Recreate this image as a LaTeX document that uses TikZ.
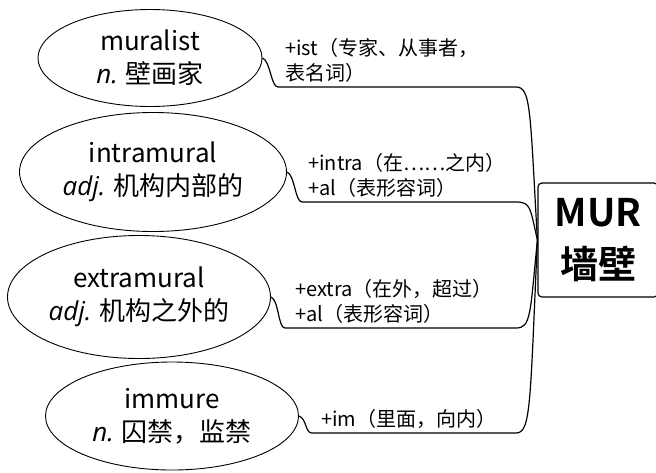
\documentclass[tikz,border=0pt]{standalone}
\usepackage{fontspec}
\setmainfont{Noto Sans CJK SC}[BoldFont=* Bold]
\newfontfamily\latinit{Open Sans}[ItalicFont=* Italic]
\newcommand\pos[1]{{\latinit\itshape #1}}
\usetikzlibrary{calc,positioning,shapes.geometric}
\tikzset{
  word/.style={draw,ellipse,inner sep=0pt,align=center,line width=0.9pt,font=\fontsize{26}{33}\selectfont},
  affix/.style={anchor=south west,inner sep=2pt,align=left,font=\fontsize{20}{25}\selectfont},
  link/.style={line width=1.2pt},
  rootbox/.style={draw,rounded corners=4pt,line width=1.2pt,minimum width=120pt,minimum height=114pt,align=center,font=\fontsize{38}{52}\selectfont\bfseries}
}

\begin{document}
\begin{tikzpicture}[x=1pt,y=-1pt]
\useasboundingbox (0,0) rectangle (656,472);
\node[rootbox] (mur) at (598,240) {MUR\\墙壁};
\node[word,minimum width=224pt,minimum height=97pt] (muralist) at (150,58) {muralist\\\pos{n.} 壁画家};
\node[word,minimum width=267pt,minimum height=119pt] (intramural) at (153,172) {intramural\\\pos{adj.} 机构内部的};
\node[word,minimum width=263pt,minimum height=123pt] (extramural) at (139,297) {extramural\\\pos{adj.} 机构之外的};
\node[word,minimum width=253pt,minimum height=108pt] (immure) at (172,416) {immure\\\pos{n.} 囚禁，监禁};
\node[affix] (ist) at (283,85) {+ist（专家、从事者，\\表名词）};
\node[affix] (intra) at (306,200) {+intra（在⋯⋯之内）\\+al（表形容词）};
\node[affix] (extra) at (293,326) {+extra（在外，超过）\\+al（表形容词）};
\node[affix] (im) at (319,431) {+im（里面，向内）};
\foreach \n/\x/\y in {muralist/278/87,intramural/302/202,extramural/285/328,immure/312/433}
  \draw[link] (\n.east) .. controls +(8,3) and +(-7,0) .. (\x,\y) -- (516,\y)
    .. controls (531,\y) and (530,{240+0.85*(\y-240)}) .. (mur.west);
\end{tikzpicture}
\end{document}
